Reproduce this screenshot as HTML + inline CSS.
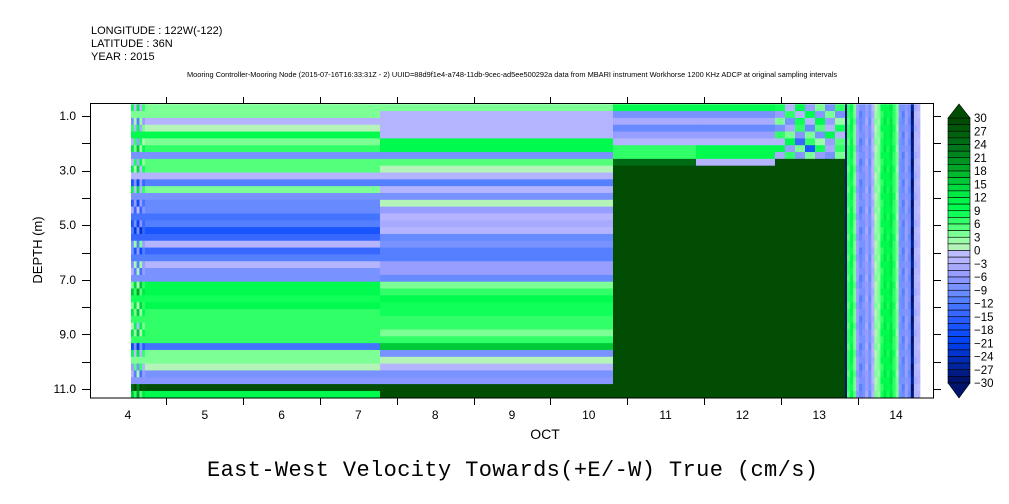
<!DOCTYPE html>
<html><head><meta charset="utf-8"><style>
body{margin:0;background:#fff;}
svg{display:block;font-family:"Liberation Sans",sans-serif;}
</style></head><body>
<svg id="chart" width="1009" height="504" viewBox="0 0 1009 504" xmlns="http://www.w3.org/2000/svg">
<g font-size="11" fill="#000">
<text x="91" y="34">LONGITUDE : 122W(-122)</text>
<text x="91" y="47">LATITUDE : 36N</text>
<text x="91" y="60">YEAR : 2015</text>
<text x="512" y="77" font-size="7.4" text-anchor="middle">Mooring Controller-Mooring Node (2015-07-16T16:33:31Z - 2) UUID=88d9f1e4-a748-11db-9cec-ad5ee500292a data from MBARI instrument Workhorse 1200 KHz ADCP at original sampling intervals</text>
</g>
<defs><clipPath id="pc"><rect x="91" y="104" width="842" height="294"/></clipPath></defs>
<g id="cells" clip-path="url(#pc)"></g>
<g id="axes"></g>
<g id="cbar"></g>
<text x="545" y="439" font-size="14" text-anchor="middle">OCT</text>
<text x="42" y="250" font-size="13" text-anchor="middle" transform="rotate(-90 42 250)">DEPTH (m)</text>
<text x="207" y="476" font-size="22" font-family="Liberation Mono, monospace" textLength="611" lengthAdjust="spacing">East-West Velocity Towards(+E/-W) True (cm/s)</text>
</svg>
<script>
// ---- data ----
const segTimes = [4.539, 4.721, 7.781, 10.815, 11.896, 12.924, 13.70, 13.836, 13.862, 14.812];
const depthStart = 0.57, binSize = 0.25;
const rowsB = [3,3,-3,1,10,3,7,-9,4.5,4.5,-2,-11,3,-8,-10,-10,-13,-12,-18,-14,-2,-14,-11,-3,-8,-8,10,10,8,9,7,6,6,6,6,-13,3,3,1,-8,-7,30,10];
const rowsC = [3,-3,-2,-3,-2,10,10,-9,4.5,1,-2,-11,-3,-8,1,-6,-2,-4,-3,-10,-8,-11,-11,-6,-6,-10,4,6,10,8,8,7,7,4,6,15,-9,1,-3,-8,-7,30,30];
const offsetsA = [-6,4,-9,5,-3];
const rowsDLeft = [10,-8,-4,-10,-5,-2,6,7,25];
const rowsDRight = [10,-8,-4,-10,-5,-2,10,10,-3];
const noisyD = [
 [8,-3,10,-6,4,-8,6],[-5,6,-2,9,-7,3,-9],[4,-8,8,-3,10,-5,2],[-9,-4,7,-10,5,-2,8],
 [6,3,-7,4,-9,9,-3],[-3,9,-15,6,2,-6,5],[9,-6,4,-18,8,-4,7],[-4,6,-7,3,-5,-8,4]];
const colsE = [6,9,4,-6,-10,-8,-5,-9,-3,2,3,8,11,9,12,7,3,-8,-10,-6,-9,-28,-3,-2];
const rowModE = [0,1,-1,0,1,-1,0,0,1,-1];
const navyVal = -30, darkVal = 30;
const yTicks = [1,3,5,7,9,11];
const xDays = [4,5,6,7,8,9,10,11,12,13,14];
const cbLabels = [30,27,24,21,18,15,12,9,6,3,0,-3,-6,-9,-12,-15,-18,-21,-24,-27,-30];
// ---- scales ----
const xs = t => 128 + (t - 4.5) * 76.8;
const ys = d => 116 + (d - 1) * 27.3;
const stops = [[-30,[0,16,96]],[-27,[0,32,144]],[-24,[0,48,192]],[-21,[0,64,240]],[-18,[16,80,255]],[-15,[48,96,255]],[-12,[74,122,255]],[-9,[112,144,255]],[-6,[144,152,255]],[-3,[176,176,255]],[0,[192,192,255]],
 [0.01,[192,240,192]],[3,[144,255,160]],[6,[64,255,112]],[9,[0,255,80]],[12,[0,240,72]],[15,[0,210,60]],[18,[0,176,40]],[21,[0,140,32]],[24,[0,112,24]],[27,[0,92,12]],[30,[0,72,0]]];
function color(v){
  let b = Math.floor((v + 30) / 1.5); b = Math.max(0, Math.min(39, b));
  let c = -30 + (b + 0.5) * 1.5;
  for (let i = 0; i < stops.length - 1; i++) {
    if (c >= stops[i][0] && c <= stops[i+1][0]) {
      const f = (c - stops[i][0]) / (stops[i+1][0] - stops[i][0]);
      const a = stops[i][1], z = stops[i+1][1];
      return 'rgb(' + a.map((q, k) => Math.round(q + (z[k] - q) * f)).join(',') + ')';
    }
  }
  return 'rgb(0,72,0)';
}
const NS = 'http://www.w3.org/2000/svg';
const cells = document.getElementById('cells');
function cell(t0, t1, r, v){
  const el = document.createElementNS(NS, 'rect');
  const x0 = xs(t0), x1 = xs(t1);
  const y0 = ys(depthStart + r * binSize), y1 = ys(depthStart + (r + 1) * binSize);
  el.setAttribute('x', x0.toFixed(2)); el.setAttribute('y', y0.toFixed(2));
  el.setAttribute('width', (x1 - x0 + 0.4).toFixed(2)); el.setAttribute('height', (y1 - y0 + 0.4).toFixed(2));
  el.setAttribute('fill', color(v));
  
  
  cells.appendChild(el);
}
const nRows = rowsB.length;
for (let r = 0; r < nRows; r++) {
  const na = offsetsA.length, sa = (segTimes[1] - segTimes[0]) / na;
  for (let c = 0; c < na; c++) cell(segTimes[0] + c * sa, segTimes[0] + (c + 1) * sa, r, rowsB[r] + offsetsA[c] * ((r % 3) - 1));
  cell(segTimes[1], segTimes[2], r, rowsB[r]);
  cell(segTimes[2], segTimes[3], r, rowsC[r]);
  if (r < rowsDLeft.length) {
    cell(segTimes[3], segTimes[4], r, rowsDLeft[r]);
    cell(segTimes[4], segTimes[5], r, rowsDRight[r]);
  } else cell(segTimes[3], segTimes[5], r, darkVal);
  if (r < noisyD.length) {
    const nd = noisyD[r].length, sd = (segTimes[7] - segTimes[5]) / nd;
    for (let c = 0; c < nd; c++) cell(segTimes[5] + c * sd, segTimes[5] + (c + 1) * sd, r, noisyD[r][c]);
  } else cell(segTimes[5], segTimes[7], r, darkVal);
  cell(segTimes[7], segTimes[8], r, navyVal);
  const ne = colsE.length, se = (segTimes[9] - segTimes[8]) / ne;
  for (let c = 0; c < ne; c++) cell(segTimes[8] + c * se, segTimes[8] + (c + 1) * se, r, colsE[c] + rowModE[(r + c) % rowModE.length]);
}
// ---- axes ----
const axes = document.getElementById('axes');
function line(x1, y1, x2, y2, name){
  const l = document.createElementNS(NS, 'line');
  l.setAttribute('x1', x1); l.setAttribute('y1', y1); l.setAttribute('x2', x2); l.setAttribute('y2', y2);
  l.setAttribute('stroke', '#000'); l.setAttribute('stroke-width', '1');
  
  
  axes.appendChild(l);
}
function text(x, y, s, anchor, size, name, parent){
  const t = document.createElementNS(NS, 'text');
  t.setAttribute('x', x); t.setAttribute('y', y); t.setAttribute('text-anchor', anchor);
  t.setAttribute('font-size', size); t.textContent = s;
  
  
  (parent || axes).appendChild(t);
}
const frame = document.createElementNS(NS, 'rect');
frame.setAttribute('x', 90.5); frame.setAttribute('y', 103.5); frame.setAttribute('width', 843); frame.setAttribute('height', 294.5);
frame.setAttribute('fill', 'none'); frame.setAttribute('stroke', '#000');


axes.appendChild(frame);
for (let d = 1; d <= 11; d++) {
  const y = Math.round(ys(d)) + 0.5;
  line(82, y, 90.5, y, 'y-tick'); line(933.5, y, 941, y, 'y-tick-right');
}
yTicks.forEach(d => text(76, ys(d) + 4, d.toFixed(1), 'end', 12, 'y-tick-label'));
xDays.forEach(d => {
  const xb = Math.round(xs(d + 1)) + 0.5;
  if (xb < 934) { line(xb, 398, xb, 405, 'x-tick'); line(xb, 97, xb, 103.5, 'x-tick-top'); }
  text(xs(d + 0.5), 419, String(d), 'middle', 12, 'x-tick-label');
});
// ---- colorbar ----
const cb = document.getElementById('cbar');
const cbX = 948, cbW = 22, cbTop = 118, cbBot = 383, nb = 40, bh = (cbBot - cbTop) / nb;
for (let i = 0; i < nb; i++) {
  const v = 30 - (i + 0.5) * 1.5;
  const r = document.createElementNS(NS, 'rect');
  r.setAttribute('x', cbX); r.setAttribute('y', (cbTop + i * bh).toFixed(2));
  r.setAttribute('width', cbW); r.setAttribute('height', bh.toFixed(2));
  r.setAttribute('fill', color(v)); r.setAttribute('stroke', '#000'); r.setAttribute('stroke-width', '0.6');
  
  
  cb.appendChild(r);
}
const tu = document.createElementNS(NS, 'polygon');
tu.setAttribute('points', `${cbX},${cbTop} ${cbX + cbW / 2},104 ${cbX + cbW},${cbTop}`);
tu.setAttribute('fill', color(31)); tu.setAttribute('stroke', '#000'); tu.setAttribute('stroke-width', '0.6');


cb.appendChild(tu);
const td = document.createElementNS(NS, 'polygon');
td.setAttribute('points', `${cbX},${cbBot} ${cbX + cbW / 2},398 ${cbX + cbW},${cbBot}`);
td.setAttribute('fill', color(-31)); td.setAttribute('stroke', '#000'); td.setAttribute('stroke-width', '0.6');


cb.appendChild(td);
cbLabels.forEach((v, i) => {
  const y = cbTop + i * 2 * bh + 4;
  text(974, y, v < 0 ? '\u2212' + Math.abs(v) : String(v), 'start', 11.5, 'colorbar-label', cb);
});
</script>
</body></html>
